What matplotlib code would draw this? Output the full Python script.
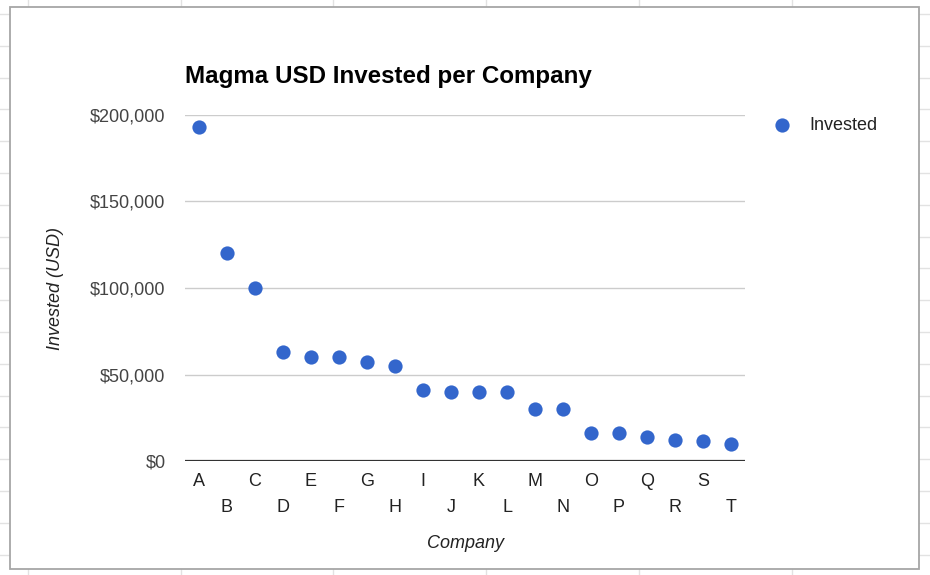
import matplotlib
matplotlib.use("Agg")
import matplotlib.pyplot as plt
from matplotlib.lines import Line2D
from matplotlib.patches import Rectangle
from matplotlib.ticker import FuncFormatter

companies = ["A", "B", "C", "D", "E", "F", "G", "H", "I", "J",
             "K", "L", "M", "N", "O", "P", "Q", "R", "S", "T"]
invested = [193000, 120000, 100000, 63000, 60000, 60000, 57500, 55000, 41000, 40000,
            40000, 40000, 30000, 30000, 16000, 16000, 14000, 12000, 11500, 10000]
y_ticks = [0, 50000, 100000, 150000, 200000]

plt.rcParams['font.family'] = ['Liberation Sans', 'DejaVu Sans']

W, H = 930, 575
fig = plt.figure(figsize=(W / 100, H / 100), dpi=100)

def fx(px):
    return px / W

def fy(py):
    return 1 - py / H

# spreadsheet grid behind the chart
grid_c = "#e2e2e2"
for x in [28, 181, 333, 486, 639, 792]:
    fig.add_artist(Line2D([fx(x), fx(x)], [0, 1], color=grid_c, lw=1, zorder=-3))
for k in range(19):
    y = 14 + 31.8 * k
    fig.add_artist(Line2D([0, 1], [fy(y), fy(y)], color=grid_c, lw=1, zorder=-3))

# chart card
fig.add_artist(Rectangle((fx(10), fy(569)), fx(919) - fx(10), fy(7) - fy(569),
                         facecolor="white", edgecolor="#a6a6a6", lw=1.3, zorder=-2))

ax = fig.add_axes([fx(185), fy(461), fx(745) - fx(185), fy(115) - fy(461)])
ax.patch.set_visible(False)

x = list(range(len(companies)))
ax.scatter(x, invested, s=105, color="#3366cc", zorder=3, clip_on=False,
           linewidths=0, label="Invested")

ax.set_xlim(-0.5, len(companies) - 0.5)
ax.set_ylim(0, 200000)
ax.set_yticks(y_ticks)
ax.yaxis.set_major_formatter(FuncFormatter(lambda v, p: "${:,.0f}".format(v)))
for yt in y_ticks[1:]:
    ax.axhline(yt, color="#cccccc", lw=1, zorder=1)
ax.axhline(0, color="#333333", lw=1.6, zorder=2)

for s in ax.spines.values():
    s.set_visible(False)

even = [i for i in x if i % 2 == 0]
odd = [i for i in x if i % 2 == 1]
ax.set_xticks(even, [companies[i] for i in even])
ax.set_xticks(odd, [companies[i] for i in odd], minor=True)
ax.tick_params(axis='x', which='major', length=0, pad=9, labelsize=13, labelcolor="#222222")
ax.tick_params(axis='x', which='minor', length=0, pad=27.5, labelsize=13, labelcolor="#222222")
ax.tick_params(axis='y', length=0, pad=14, labelsize=13, labelcolor="#444444")

ax.set_xlabel("Company", fontsize=13, style="italic", color="#222222", va="center")
ax.xaxis.set_label_coords(0.5, (461 - 544) / 346)
ax.set_ylabel("Invested (USD)", fontsize=13, style="italic", color="#222222", va="center")
ax.yaxis.set_label_coords((56 - 185) / 560, 0.5)

fig.text(fx(185), fy(77), "Magma USD Invested per Company", fontsize=17.4,
         fontweight="bold", color="#000000", ha="left", va="center")

leg = ax.legend(loc="center left", bbox_to_anchor=(fx(773), fy(125)),
                bbox_transform=fig.transFigure, frameon=False, fontsize=13,
                handletextpad=1.0, borderpad=0, borderaxespad=0, handlelength=1.0,
                scatterpoints=1)
for t in leg.get_texts():
    t.set_color("#222222")

fig.savefig("out.png", dpi=100)
